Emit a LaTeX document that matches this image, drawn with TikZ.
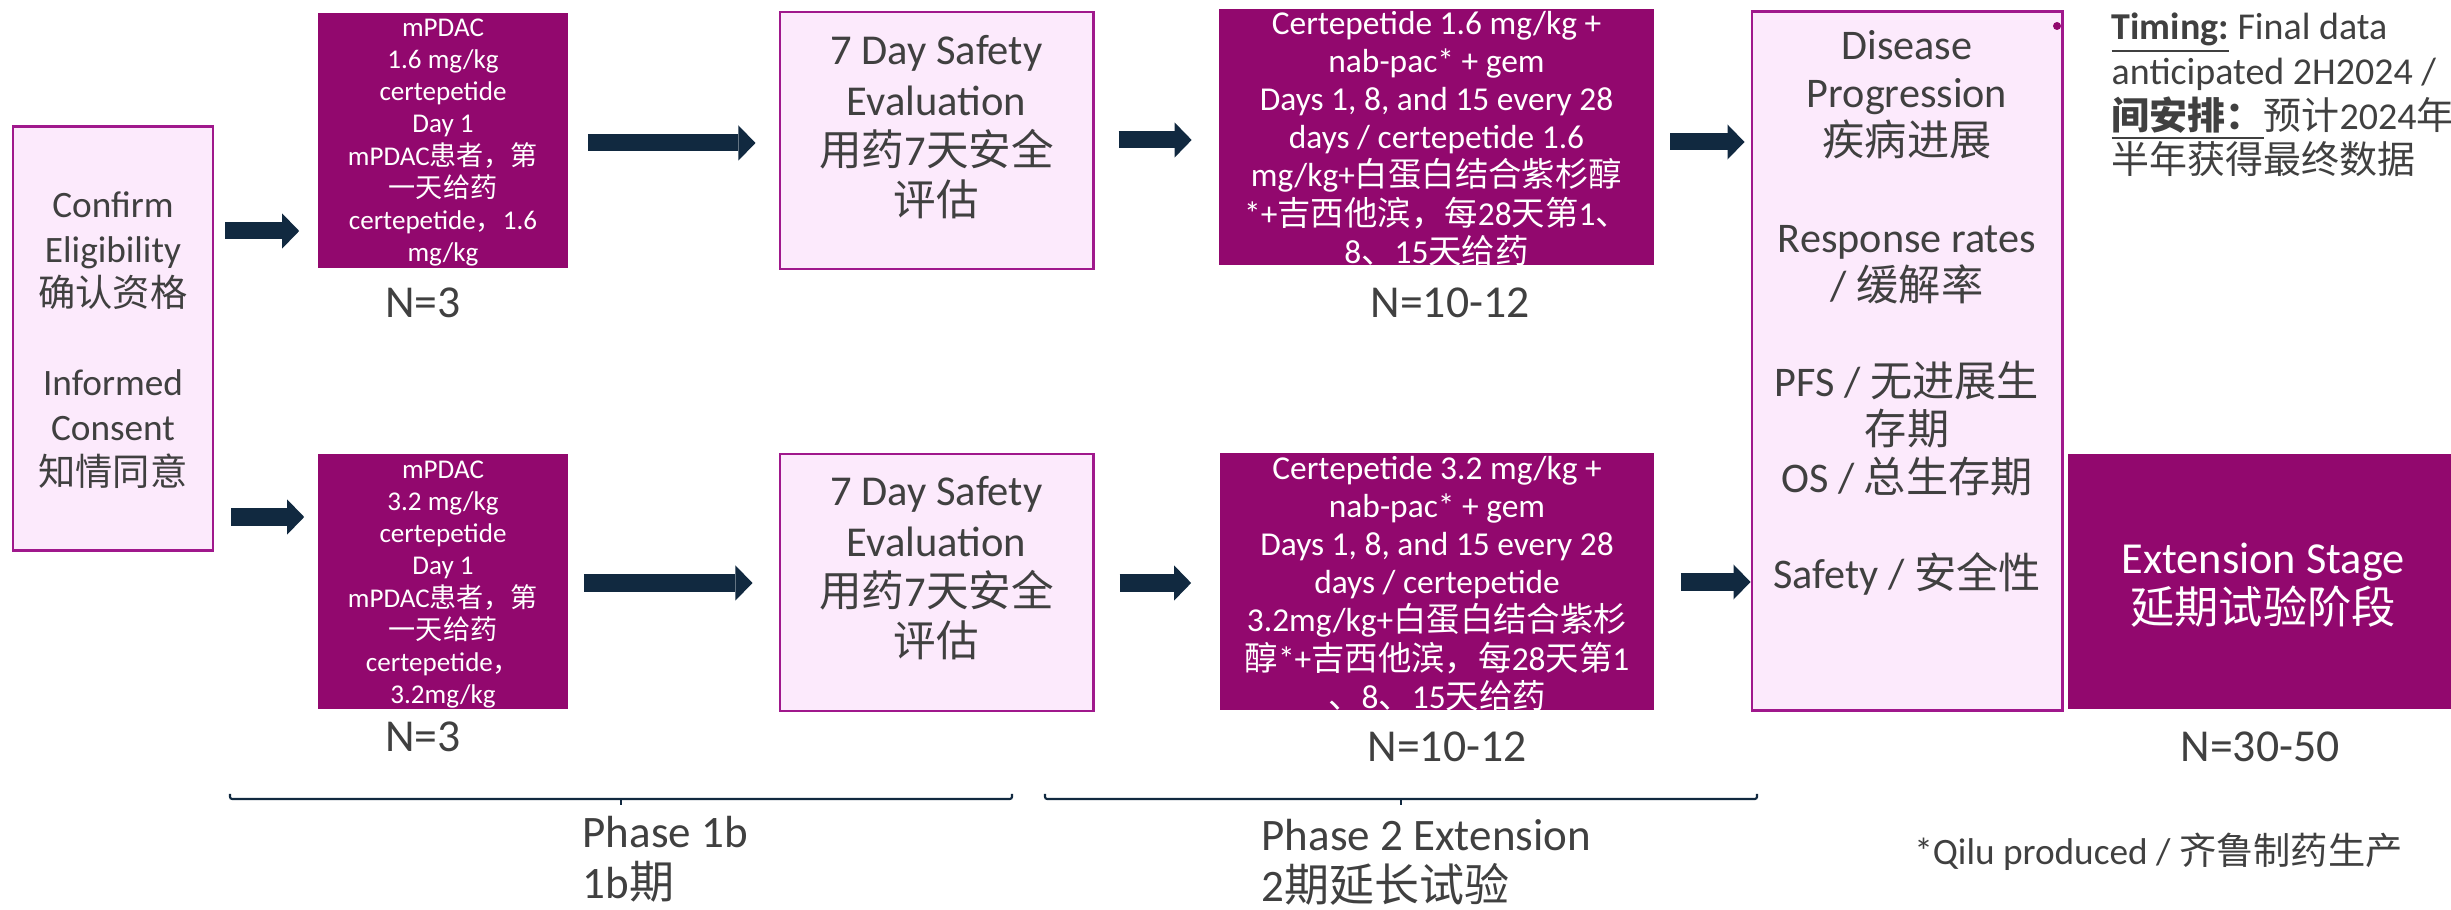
\documentclass[tikz,border=0pt]{standalone}
\usepackage{fontspec}
\setmainfont{Carlito}
\newfontfamily\zhfont{Noto Sans CJK SC}
\newcommand{\zh}[1]{{\zhfont #1}}
\usetikzlibrary{arrows.meta}
\definecolor{plum}{HTML}{92086E}
\definecolor{blush}{HTML}{FCEAFC}
\definecolor{plumline}{HTML}{A0188C}
\definecolor{navy}{HTML}{112940}
\definecolor{inkgrey}{HTML}{404040}

\begin{document}
\begin{tikzpicture}[x=0.01cm, y=-0.01cm,
	lightbox/.style={draw=plumline, line width=0.8pt, fill=blush, inner sep=0pt},
	darkbox/.style={fill=plum, inner sep=0pt},
	greytxt/.style={text=inkgrey, align=center, inner sep=0pt},
	whitetxt/.style={text=white, align=center, inner sep=0pt},
	blk/.style={draw=navy, line width=0.17cm, -{Triangle[width=0.35cm, length=0.17cm, line width=0pt]}}]
		\useasboundingbox (0,0) rectangle (2451,910);
		
		%boxes
		\node[lightbox, minimum width=2cm, minimum height=4.23cm] (conf) at (113,338.5) {};
		\node[darkbox, minimum width=2.5cm, minimum height=2.55cm] (pa) at (443,140.5) {};
		\node[darkbox, minimum width=2.5cm, minimum height=2.55cm] (pb) at (443,581.5) {};
		\node[lightbox, minimum width=3.13cm, minimum height=2.57cm] (sa) at (936.5,140.5) {};
		\node[lightbox, minimum width=3.13cm, minimum height=2.57cm] (sb) at (936.5,582.5) {};
		\node[darkbox, minimum width=4.34cm, minimum height=2.56cm] (ca) at (1436.5,137) {};
		\node[darkbox, minimum width=4.34cm, minimum height=2.56cm] (cb) at (1437,581.5) {};
		\node[lightbox, minimum width=3.1cm, minimum height=6.98cm] (dis) at (1907,361) {};
		\node[darkbox, minimum width=3.83cm, minimum height=2.55cm] (ext) at (2259.5,581.5) {};
		\fill[plum] (2057,26) circle (0.04cm);
		
		%box texts
		\node[greytxt, font=\fontsize{10.6}{12.69}\selectfont] (conftxt) at (113,340)
			{Confirm\\Eligibility\\\zh{确认资格}\\~\\Informed\\Consent\\\zh{知情同意}};
		\node[whitetxt, font=\fontsize{7.7}{9.16}\selectfont] (patxt) at (443,142.5)
			{mPDAC\\1.6 mg/kg\\certepetide\\Day 1\\mPDAC\zh{患者，第}\\\zh{一天给药}\\certepetide\zh{，}1.6\\mg/kg};
		\node[whitetxt, font=\fontsize{7.7}{9.16}\selectfont] (pbtxt) at (443,584.5)
			{mPDAC\\3.2 mg/kg\\certepetide\\Day 1\\mPDAC\zh{患者，第}\\\zh{一天给药}\\certepetide\zh{，}\\3.2mg/kg};
		\node[greytxt, font=\fontsize{12.1}{14.31}\selectfont] (satxt) at (936.5,127.5)
			{7 Day Safety\\Evaluation\\\zh{用药}7\zh{天安全}\\\zh{评估}};
		\node[greytxt, font=\fontsize{12.1}{14.31}\selectfont] (sbtxt) at (936.5,568.5)
			{7 Day Safety\\Evaluation\\\zh{用药}7\zh{天安全}\\\zh{评估}};
		\node[whitetxt, font=\fontsize{9.5}{10.87}\selectfont] (catxt) at (1436.5,138.5)
			{Certepetide 1.6 mg/kg +\\nab-pac* + gem\\Days 1, 8, and 15 every 28\\days / certepetide 1.6\\mg/kg+\zh{白蛋白结合紫杉醇}\\*+\zh{吉西他滨，每}28\zh{天第}1\zh{、}\\8\zh{、}15\zh{天给药}};
		\node[whitetxt, font=\fontsize{9.5}{10.87}\selectfont] (cbtxt) at (1437,583.5)
			{Certepetide 3.2 mg/kg +\\nab-pac* + gem\\Days 1, 8, and 15 every 28\\days / certepetide\\3.2mg/kg+\zh{白蛋白结合紫杉}\\\zh{醇}*+\zh{吉西他滨，每}28\zh{天第}1\\\zh{、}8\zh{、}15\zh{天给药}};
		\node[greytxt, font=\fontsize{12}{13.66}\selectfont] (distxt) at (1907,313)
			{Disease\\Progression\\\zh{疾病进展}\\~\\Response rates\\/ \zh{缓解率}\\~\\PFS / \zh{无进展生}\\\zh{存期}\\OS / \zh{总生存期}\\~\\Safety / \zh{安全性}};
		\node[whitetxt, font=\fontsize{12.6}{14.2}\selectfont] (exttxt) at (2263,585)
			{Extension Stage\\\zh{延期试验阶段}};
		
		%arrows
		\draw[blk, shorten <=0.11cm, shorten >=0.18cm] (conf.east |- 0,231) -- (pa.west |- 0,231);
		\draw[blk, shorten <=0.17cm, shorten >=0.13cm] (conf.east |- 0,517) -- (pb.west |- 0,517);
		\draw[blk, shorten <=0.19cm, shorten >=0.23cm] (pa.east |- 0,143) -- (sa.west |- 0,143);
		\draw[blk, shorten <=0.15cm, shorten >=0.26cm] (pb.east |- 0,583) -- (sb.west |- 0,583);
		\draw[blk, shorten <=0.24cm, shorten >=0.27cm] (sa.east |- 0,140) -- (ca.west |- 0,140);
		\draw[blk, shorten <=0.25cm, shorten >=0.28cm] (sb.east |- 0,583) -- (cb.west |- 0,583);
		\draw[blk, shorten <=0.16cm, shorten >=0.06cm] (ca.east |- 0,142) -- (dis.west |- 0,142);
		\draw[blk, shorten <=0.26cm] (cb.east |- 0,582) -- (dis.west |- 0,582);
		
		%group sizes
		\node[text=inkgrey, font=\fontsize{13}{15}\selectfont] (na) at (423,303) {N=3};
		\node[text=inkgrey, font=\fontsize{13}{15}\selectfont] (nb) at (423,737) {N=3};
		\node[text=inkgrey, font=\fontsize{13}{15}\selectfont] (nc) at (1450,303) {N=10-12};
		\node[text=inkgrey, font=\fontsize{13}{15}\selectfont] (nd) at (1447,747) {N=10-12};
		\node[text=inkgrey, font=\fontsize{13}{15}\selectfont] (ne) at (2260,747) {N=30-50};
		
		%phase brackets
		\foreach \a/\m/\b in {230/621/1012, 1045/1401/1757}{
			\draw[navy, line width=0.6pt, rounded corners=0.6pt] (\a,794) -- (\a,799) -- (\b,799) -- (\b,794);
			\draw[navy, line width=0.6pt] (\m,799) -- (\m,805);
		}
		\node[greytxt, align=left, anchor=west, font=\fontsize{12.8}{14.5}\selectfont] (ph1) at (582,859)
			{Phase 1b\\1b\zh{期}};
		\node[greytxt, align=left, anchor=west, font=\fontsize{12.8}{14.5}\selectfont] (ph2) at (1261,862)
			{Phase 2 Extension\\2\zh{期延长试验}};
		
		%notes
		\node[greytxt, align=left, anchor=west, font=\fontsize{10.8}{12.72}\selectfont] (timing) at (2111,95)
			{\underline{\textbf{Timing:}} Final data\\anticipated 2H2024 /\\\underline{\zh{\textbf{间安排：}}}\zh{预计}2024\zh{年}\\\zh{半年获得最终数据}};
		\node[greytxt, font=\fontsize{10.6}{12.7}\selectfont] (qilu) at (2158.5,852)
			{*Qilu produced / \zh{齐鲁制药生产}};
\end{tikzpicture}
\end{document}
